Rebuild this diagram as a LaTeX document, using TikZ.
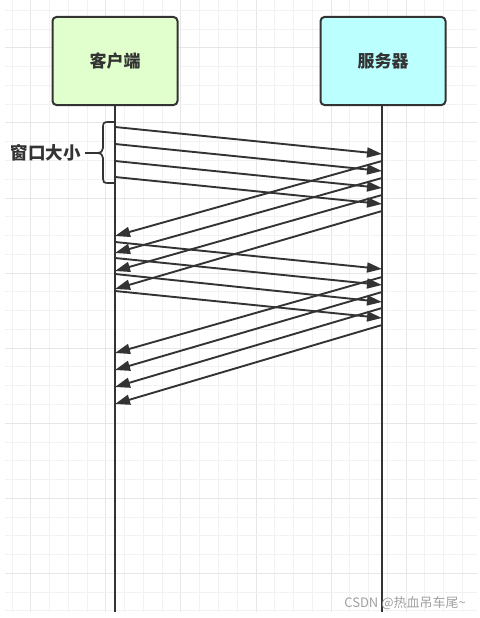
\documentclass[tikz,border=0pt]{standalone}
\usepackage{fontspec}
\newfontfamily\cjk{Noto Sans CJK SC}
\usetikzlibrary{arrows.meta, positioning}
\definecolor{grid-minor}{HTML}{F2F2F2}
\definecolor{grid-major}{HTML}{E6E6E6}
\definecolor{line-color}{HTML}{333333}
\definecolor{client-fill}{HTML}{E0FFCC}
\definecolor{server-fill}{HTML}{BBFFFF}
\definecolor{mark-color}{HTML}{A0A0A0}
\tikzset{
  host-node/.style={
    draw=line-color, line width=2pt, rounded corners=4pt,
    minimum width=125pt, minimum height=88pt, align=center,
    font=\cjk\bfseries\fontsize{17pt}{19pt}\selectfont, text=line-color
  },
  lifeline/.style={line width=2pt, draw=line-color},
  msg/.style={-{Triangle[length=15pt, width=10pt]}, line width=1.9pt, draw=line-color},
  brace-line/.style={line width=1.7pt, draw=line-color}
}

\begin{document}
\begin{tikzpicture}[x=1pt, y=-1pt]
  \useasboundingbox (0,0) rectangle (479,618);
  % background grid
  \foreach \k in {0,...,24} {
    \pgfmathsetmacro{\gx}{11.7+18.77*\k}
    \pgfmathtruncatemacro{\gm}{mod(\k,4)}
    \ifnum\gm=1 \draw[grid-major] (\gx,0) -- (\gx,612);
    \else \draw[grid-minor] (\gx,0) -- (\gx,612); \fi
  }
  \foreach \k in {0,...,32} {
    \pgfmathsetmacro{\gy}{10+18.77*\k}
    \pgfmathtruncatemacro{\gm}{mod(\k,4)}
    \ifnum\gm=2 \draw[grid-major] (5,\gy) -- (477,\gy);
    \else \draw[grid-minor] (5,\gy) -- (477,\gy); \fi
  }

  \node[host-node, fill=client-fill] (client) at (115, 61) {客户端};
  \node[host-node, fill=server-fill] (server) at (383, 61) {服务器};
  \coordinate (client-end) at (115, 612);
  \coordinate (server-end) at (382, 612);
  \draw[lifeline] (client.south -| client-end) -- (client-end);
  \draw[lifeline] (server.south -| server-end) -- (server-end);

  % window: first four segments
  \foreach \n/\a/\b in {1/127/154, 2/144/171, 3/161/188, 4/177/204} {
    \coordinate (c-send-\n) at (115, \a);
    \coordinate (s-recv-\n) at (382, \b);
    \draw[msg] (c-send-\n) -- (s-recv-\n);
  }
  \foreach \n/\a/\b in {1/161/236, 2/178/253, 3/195/271, 4/211/289} {
    \coordinate (s-ack-\n) at (382, \a);
    \coordinate (c-ack-\n) at (115, \b);
    \draw[msg] (s-ack-\n) -- (c-ack-\n);
  }
  % next window
  \foreach \n/\a/\b in {5/242/269, 6/258/285, 7/274/302, 8/291/318} {
    \coordinate (c-send-\n) at (115, \a);
    \coordinate (s-recv-\n) at (382, \b);
    \draw[msg] (c-send-\n) -- (s-recv-\n);
  }
  \foreach \n/\a/\b in {5/277/353, 6/292/370, 7/308/387, 8/325/404} {
    \coordinate (s-ack-\n) at (382, \a);
    \coordinate (c-ack-\n) at (115, \b);
    \draw[msg] (s-ack-\n) -- (c-ack-\n);
  }

  % brace for the window size
  \coordinate (brace-tip) at (97, 153);
  \draw[brace-line] (114,122) -- (108,122) .. controls (104,122) and (103,123) .. (103,127)
    -- (103,148) .. controls (103,151) and (101,153) .. (brace-tip)
    .. controls (101,153) and (103,155) .. (103,158)
    -- (103,179) .. controls (103,182) and (104,183) .. (108,183) -- (114,183);
  \node[anchor=east, inner sep=0pt, text=line-color,
        font=\cjk\bfseries\fontsize{17.5pt}{19pt}\selectfont] (window-label) at (81, 153) {窗口大小};
  \draw[brace-line] (window-label.east) ++(4,0) -- (brace-tip);

  \node[anchor=east, inner sep=0pt, text=mark-color,
        font=\cjk\fontsize{13pt}{15pt}\selectfont] (watermark) at (466, 603) {CSDN @热血吊车尾\textasciitilde};
\end{tikzpicture}
\end{document}
